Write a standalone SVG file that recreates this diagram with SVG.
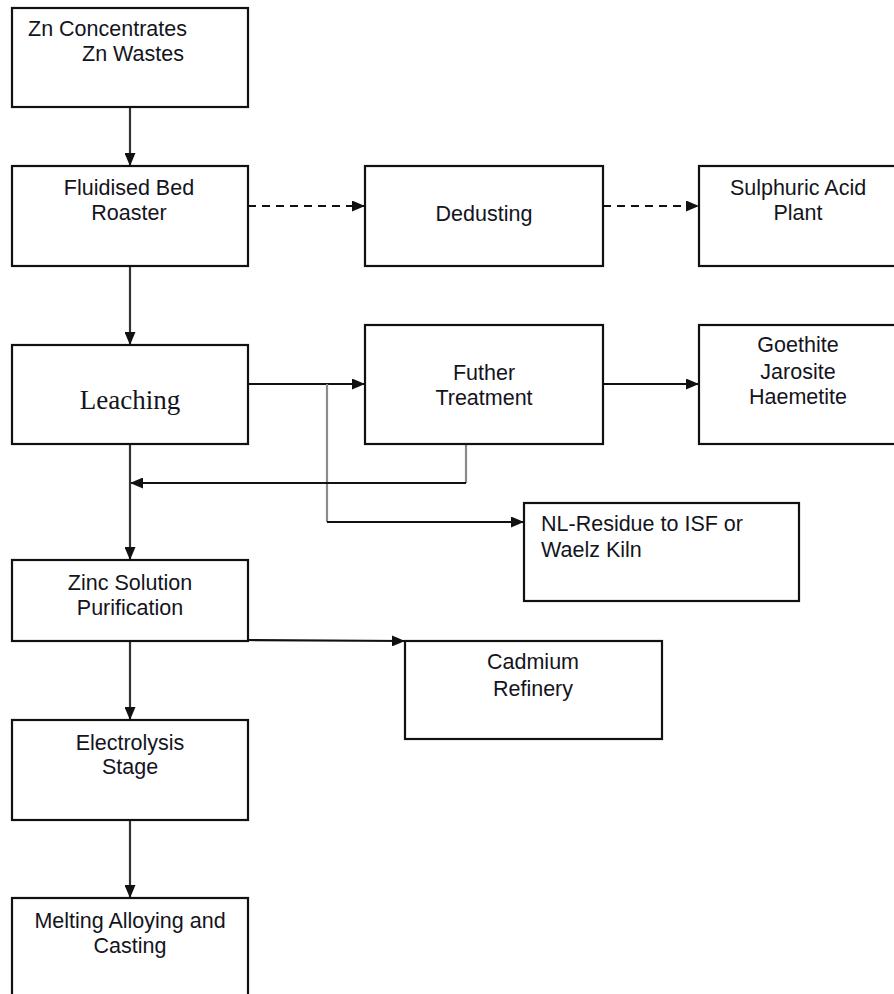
<svg xmlns="http://www.w3.org/2000/svg" width="894" height="994" viewBox="0 0 894 994">
<defs>
<style>
.box{fill:#fff;stroke:#111;stroke-width:2.2}
.t{font-family:"Liberation Sans",Arial,sans-serif;font-size:21.5px;fill:#141420;text-anchor:middle}
.tl{text-anchor:start}
.serif{font-family:"Liberation Serif","Times New Roman",serif;font-size:27px}
.c{fill:none;stroke:#333;stroke-width:2.2}
.k{fill:none;stroke:#111;stroke-width:2.2}
.g{fill:none;stroke:#8a8a8a;stroke-width:2.2}
.d{fill:none;stroke:#111;stroke-width:2.2;stroke-dasharray:8 6}
</style>
<marker id="ah" viewBox="0 0 13 11" refX="13" refY="5.5" markerWidth="13" markerHeight="11" markerUnits="userSpaceOnUse" orient="auto">
<path d="M0,0 L13,5.5 L0,11 Z" fill="#111"/>
</marker>
</defs>
<rect width="894" height="994" fill="#fff"/>
<g id="connectors">
<line class="c" x1="130" y1="107" x2="130" y2="166" marker-end="url(#ah)"/>
<line class="c" x1="130" y1="266" x2="130" y2="345" marker-end="url(#ah)"/>
<line class="d" x1="248" y1="206" x2="365" y2="206" marker-end="url(#ah)"/>
<line class="d" x1="603" y1="206" x2="699" y2="206" marker-end="url(#ah)"/>
<line class="k" x1="248" y1="384" x2="365" y2="384" marker-end="url(#ah)"/>
<line class="k" x1="603" y1="384" x2="699" y2="384" marker-end="url(#ah)"/>
<polyline class="g" points="327,384 327,522"/>
<line class="k" x1="327" y1="522" x2="524" y2="522" marker-end="url(#ah)"/>
<polyline class="g" points="466,444 466,483"/>
<line class="k" x1="466" y1="483" x2="130" y2="483" marker-end="url(#ah)"/>
<line class="c" x1="130" y1="444" x2="130" y2="560" marker-end="url(#ah)"/>
<line class="k" x1="248" y1="640" x2="405" y2="641" marker-end="url(#ah)"/>
<line class="c" x1="130" y1="641" x2="130" y2="720" marker-end="url(#ah)"/>
<line class="c" x1="130" y1="820" x2="130" y2="898" marker-end="url(#ah)"/>
</g>
<g id="zn-input">
<rect class="box" x="12" y="8" width="236" height="99"/>
<text class="t tl" x="28" y="36">Zn Concentrates</text>
<text class="t tl" x="82" y="61">Zn Wastes</text>
</g>
<g id="roaster">
<rect class="box" x="12" y="166" width="236" height="100"/>
<text class="t" x="129" y="195">Fluidised Bed</text>
<text class="t" x="129" y="220">Roaster</text>
</g>
<g id="dedusting">
<rect class="box" x="365" y="166" width="238" height="100"/>
<text class="t" x="484" y="221">Dedusting</text>
</g>
<g id="acid-plant">
<rect class="box" x="699" y="166" width="198" height="100"/>
<text class="t" x="798" y="195">Sulphuric Acid</text>
<text class="t" x="798" y="220">Plant</text>
</g>
<g id="leaching">
<rect class="box" x="12" y="345" width="236" height="99"/>
<text class="t serif" x="130" y="409">Leaching</text>
</g>
<g id="further-treatment">
<rect class="box" x="365" y="325" width="238" height="119"/>
<text class="t" x="484" y="380">Futher</text>
<text class="t" x="484" y="405">Treatment</text>
</g>
<g id="iron-residues">
<rect class="box" x="699" y="325" width="198" height="119"/>
<text class="t" x="798" y="352">Goethite</text>
<text class="t" x="798" y="379">Jarosite</text>
<text class="t" x="798" y="404">Haemetite</text>
</g>
<g id="nl-residue">
<rect class="box" x="524" y="503" width="275" height="98"/>
<text class="t tl" x="541" y="531">NL-Residue to ISF or</text>
<text class="t tl" x="541" y="557">Waelz Kiln</text>
</g>
<g id="purification">
<rect class="box" x="12" y="560" width="236" height="81"/>
<text class="t" x="130" y="590">Zinc Solution</text>
<text class="t" x="130" y="615">Purification</text>
</g>
<g id="cadmium">
<rect class="box" x="405" y="641" width="257" height="98"/>
<text class="t" x="533" y="669">Cadmium</text>
<text class="t" x="533" y="696">Refinery</text>
</g>
<g id="electrolysis">
<rect class="box" x="12" y="720" width="236" height="100"/>
<text class="t" x="130" y="750">Electrolysis</text>
<text class="t" x="130" y="774">Stage</text>
</g>
<g id="melting">
<rect class="box" x="12" y="898" width="236" height="110"/>
<text class="t" x="130" y="928">Melting Alloying and</text>
<text class="t" x="130" y="953">Casting</text>
</g>
</svg>
